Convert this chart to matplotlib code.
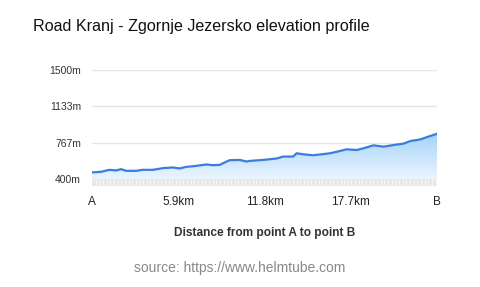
import numpy as np
import matplotlib
matplotlib.use("Agg")
import matplotlib.pyplot as plt
from matplotlib.ticker import MultipleLocator
from matplotlib.patches import Polygon
from matplotlib.colors import LinearSegmentedColormap

plt.rcParams['font.family'] = ['Liberation Sans', 'DejaVu Sans']

# distance along route (km) and elevation (m)
distance_km = [0, 0.62, 1.19, 1.65, 1.99, 2.33, 3.02, 3.47, 4.16, 4.84, 5.53, 5.99,
               6.45, 7.13, 7.82, 8.27, 8.73, 9.07, 9.41, 10.10, 10.56, 10.79, 11.70,
               12.62, 13.08, 13.76, 13.99, 14.45, 15.13, 16.28, 16.96, 17.42, 18.11,
               18.56, 19.25, 19.94, 20.62, 21.31, 21.77, 22.45, 22.91, 23.6]
elevation_m = [467, 473, 493, 487, 500, 483, 483, 493, 493, 510, 517, 507,
               523, 533, 547, 540, 543, 567, 590, 593, 577, 583, 593,
               607, 627, 627, 660, 650, 640, 660, 683, 700, 693,
               710, 740, 727, 743, 757, 783, 800, 823, 857]

x_ticks = [0, 5.9, 11.8, 17.7, 23.6]
x_tick_labels = ['A', '5.9km', '11.8km', '17.7km', 'B']
y_ticks = [400, 767, 1133, 1500]
y_tick_labels = ['400m', '767m', '1133m', '1500m']

fig = plt.figure(figsize=(4.8, 2.87), dpi=100)
ax = fig.add_axes([92 / 480, 1 - 186 / 287, (437 - 92) / 480, (186 - 70) / 287])

ymin, ymax = 330, 1500
ax.set_xlim(0, 23.6)
ax.set_ylim(ymin, ymax)

for y in y_ticks[1:]:
    ax.axhline(y, color='#e6e6e6', lw=1, zorder=0)

# x-axis band
ax.axhspan(ymin, 400, color='#e8e8e8', zorder=1, lw=0)

# gradient fill under the line
verts = [(distance_km[0], 400)] + list(zip(distance_km, elevation_m)) + [(distance_km[-1], 400)]
poly = Polygon(verts, closed=True, facecolor='none', edgecolor='none')
ax.add_patch(poly)
grad = np.linspace(0, 1, 256).reshape(-1, 1)
cmap = LinearSegmentedColormap.from_list('g', ['#eaf5fe', '#a6d2f8'])
top = max(elevation_m)
im = ax.imshow(grad, extent=[0, 23.6, 400, top], origin='lower', aspect='auto',
               cmap=cmap, zorder=2)
im.set_clip_path(poly)

ax.plot(distance_km, elevation_m, color='#3b7ddd', lw=1.6, zorder=3)

ax.set_xticks(x_ticks)
ax.set_xticklabels(x_tick_labels, fontsize=8.5, color='#222222')
ax.set_yticks(y_ticks)
ax.set_yticklabels(y_tick_labels, fontsize=7.5, color='#333333')
ax.xaxis.set_minor_locator(MultipleLocator(0.25))
ax.tick_params(axis='x', which='major', length=0, pad=7)
ax.tick_params(axis='x', which='minor', direction='in', length=5, width=0.7,
               color='#f6f6f6')
ax.tick_params(axis='y', length=0, pad=8)
for s in ax.spines.values():
    s.set_visible(False)

ax.set_xlabel('Distance from point A to point B', fontsize=8.6, fontweight='bold',
              color='#333333', labelpad=14)

fig.text(33 / 480, 1 - 27 / 287, 'Road Kranj - Zgornje Jezersko elevation profile',
         fontsize=11.6, color='#111111', va='center', ha='left')
fig.text(240 / 480, 1 - 268 / 287, 'source: https://www.helmtube.com',
         fontsize=10, color='#888888', va='center', ha='center')

fig.savefig('out.png', dpi=100, facecolor='white')
